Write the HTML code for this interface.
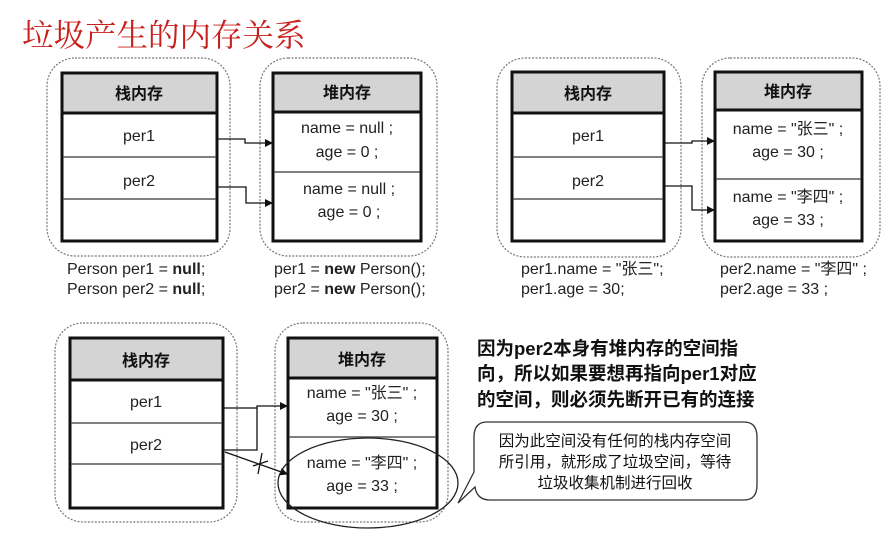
<!DOCTYPE html>
<html><head><meta charset="utf-8"><style>
body{margin:0;background:#fff;}
svg{display:block;}
text{font-family:"Liberation Sans","Noto Sans CJK SC",sans-serif;}
.c{text-anchor:middle;font-size:16px;fill:#222;}
.h{text-anchor:middle;font-size:16px;font-weight:bold;fill:#111;}
.l{font-size:16px;fill:#222;}
.d{fill:none;stroke:#777;stroke-width:1.2;stroke-dasharray:2 1.5;}
.t{fill:#fff;stroke:#111;stroke-width:3;}
.g{fill:#d4d4d4;stroke:#111;stroke-width:3;}
.s{stroke:#555;stroke-width:1.5;}
.a{fill:none;stroke:#111;stroke-width:1.3;}
</style></head><body>
<svg width="887" height="533" viewBox="0 0 887 533">
<defs><marker id="m" markerWidth="8" markerHeight="8" refX="7" refY="4" orient="auto" markerUnits="userSpaceOnUse"><path d="M0,0 L8,4 L0,8z" fill="#111"/></marker></defs>
<text x="22" y="46" style="font-family:'Noto Serif CJK SC',serif;font-size:31.5px;fill:#c8201c;">垃圾产生的内存关系</text>

<!-- Panel 1 -->
<rect class="d" x="47" y="58" width="183" height="198" rx="28"/>
<rect class="t" x="62" y="73" width="155" height="168"/>
<rect class="g" x="62" y="73" width="155" height="40"/>
<line class="s" x1="63" y1="157" x2="216" y2="157"/><line class="s" x1="63" y1="199" x2="216" y2="199"/>
<text class="h" x="139" y="99">栈内存</text>
<text class="c" x="139" y="141">per1</text><text class="c" x="139" y="186">per2</text>
<rect class="d" x="260" y="58" width="177" height="198" rx="28"/>
<rect class="t" x="273" y="73" width="148" height="168"/>
<rect class="g" x="273" y="73" width="148" height="39"/>
<line class="s" x1="274" y1="172" x2="420" y2="172"/>
<text class="h" x="347" y="98">堆内存</text>
<text class="c" x="347" y="133">name = null ;</text><text class="c" x="347" y="157">age = 0 ;</text>
<text class="c" x="349" y="194">name = null ;</text><text class="c" x="349" y="217">age = 0 ;</text>
<polyline class="a" points="217,139 245,139 245,143 272,143" marker-end="url(#m)"/>
<polyline class="a" points="217,187 246,187 246,203 272,203" marker-end="url(#m)"/>
<text class="l" x="67" y="274">Person per1 = <tspan font-weight="bold">null</tspan>;</text>
<text class="l" x="67" y="294">Person per2 = <tspan font-weight="bold">null</tspan>;</text>
<text class="l" x="274" y="274">per1 = <tspan font-weight="bold">new</tspan> Person();</text>
<text class="l" x="274" y="294">per2 = <tspan font-weight="bold">new</tspan> Person();</text>

<!-- Panel 2 -->
<rect class="d" x="497" y="58" width="184" height="199" rx="28"/>
<rect class="t" x="512" y="72" width="152" height="169"/>
<rect class="g" x="512" y="72" width="152" height="41"/>
<line class="s" x1="513" y1="157" x2="663" y2="157"/><line class="s" x1="513" y1="199" x2="663" y2="199"/>
<text class="h" x="588" y="99">栈内存</text>
<text class="c" x="588" y="141">per1</text><text class="c" x="588" y="186">per2</text>
<rect class="d" x="702" y="58" width="178" height="199" rx="28"/>
<rect class="t" x="715" y="72" width="147" height="169"/>
<rect class="g" x="715" y="72" width="147" height="38"/>
<line class="s" x1="716" y1="179" x2="861" y2="179"/>
<text class="h" x="788" y="97">堆内存</text>
<text class="c" x="788" y="134">name = "张三" ;</text><text class="c" x="788" y="157">age = 30 ;</text>
<text class="c" x="788" y="202">name = "李四" ;</text><text class="c" x="788" y="225">age = 33 ;</text>
<polyline class="a" points="664,143 692,143 692,141 714,141" marker-end="url(#m)"/>
<polyline class="a" points="664,186 692,186 692,210 714,210" marker-end="url(#m)"/>
<text class="l" x="521" y="274">per1.name = "张三";</text>
<text class="l" x="521" y="294">per1.age = 30;</text>
<text class="l" x="720" y="274">per2.name = "李四" ;</text>
<text class="l" x="720" y="294">per2.age = 33 ;</text>

<!-- Panel 3 -->
<rect class="d" x="55" y="323" width="182" height="199" rx="28"/>
<rect class="t" x="70" y="338" width="153" height="170"/>
<rect class="g" x="70" y="338" width="153" height="42"/>
<line class="s" x1="71" y1="423" x2="222" y2="423"/><line class="s" x1="71" y1="464" x2="222" y2="464"/>
<text class="h" x="146" y="366">栈内存</text>
<text class="c" x="146" y="407">per1</text><text class="c" x="146" y="450">per2</text>
<rect class="d" x="275" y="323" width="173" height="199" rx="28"/>
<rect class="t" x="288" y="338" width="149" height="170"/>
<rect class="g" x="288" y="338" width="149" height="40"/>
<line class="s" x1="289" y1="437" x2="436" y2="437"/>
<text class="h" x="362" y="365">堆内存</text>
<text class="c" x="362" y="398">name = "张三" ;</text><text class="c" x="362" y="421">age = 30 ;</text>
<text class="c" x="362" y="468">name = "李四" ;</text><text class="c" x="362" y="491">age = 33 ;</text>
<polyline class="a" points="223,408 257,408 257,406 287,406" marker-end="url(#m)"/>
<polyline class="a" points="223,450 257,450 257,408"/>
<line class="a" x1="225" y1="452" x2="287" y2="474" marker-end="url(#m)"/>
<line class="a" x1="262" y1="453" x2="258" y2="474"/>
<line class="a" x1="253" y1="466" x2="268" y2="461"/>
<ellipse cx="368" cy="483" rx="90" ry="45" fill="none" stroke="#222" stroke-width="1.3"/>
<g style="font-size:18.5px;font-weight:bold;fill:#111;">
<text x="477" y="355">因为per2本身有堆内存的空间指</text>
<text x="477" y="380">向，所以如果要想再指向per1对应</text>
<text x="477" y="406">的空间，则必须先断开已有的连接</text>
</g>
<path d="M487,422 H744 Q757,422 757,437 V485 Q757,500 744,500 H490 Q477,500 475,487 L458,503 L474,472 V437 Q474,422 487,422Z" fill="#fff" stroke="#333" stroke-width="1.3"/>
<g style="font-size:15.5px;fill:#111;text-anchor:middle;">
<text x="615" y="446">因为此空间没有任何的栈内存空间</text>
<text x="615" y="467">所引用，就形成了垃圾空间，等待</text>
<text x="615" y="488">垃圾收集机制进行回收</text>
</g>
</svg>
</body></html>
